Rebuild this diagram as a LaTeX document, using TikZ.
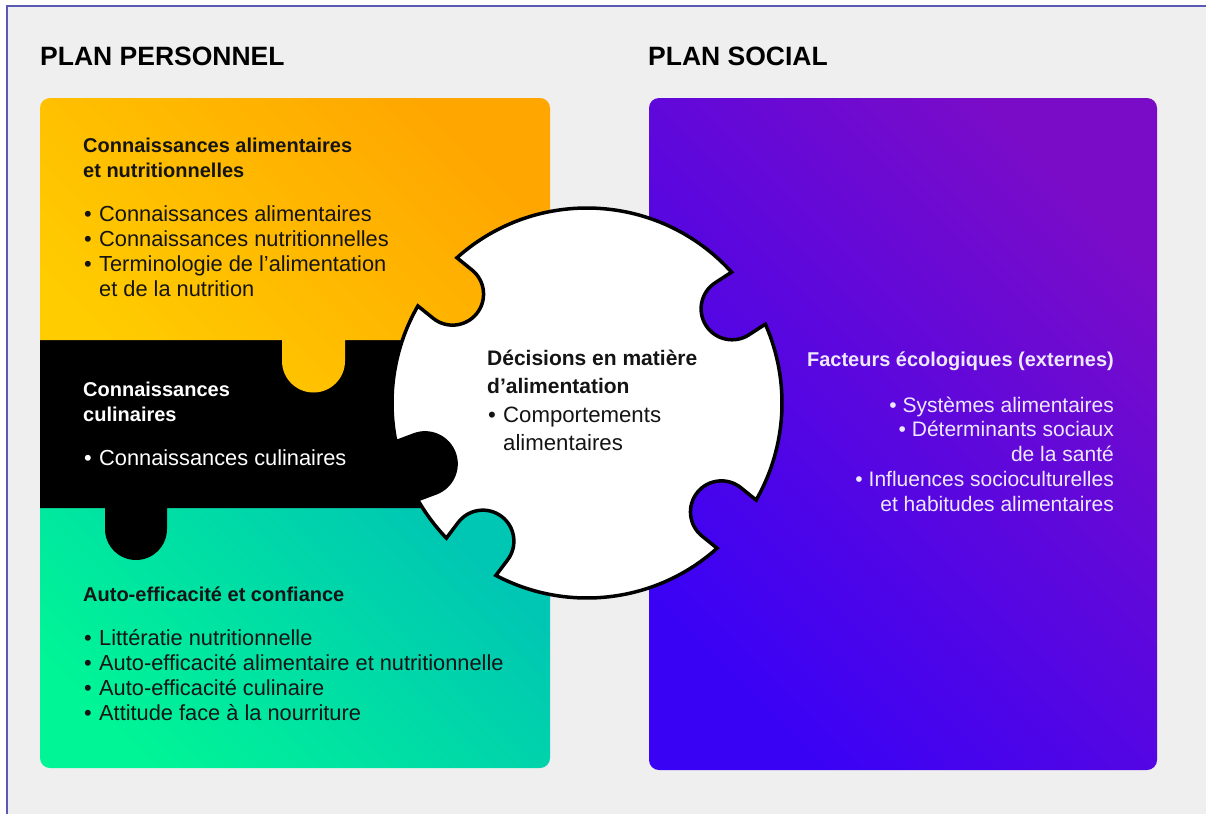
\documentclass[tikz,border=0pt]{standalone}
\usepackage{fontspec}
\setmainfont{Liberation Sans}
\usepackage{tikz}

\definecolor{bggray}{RGB}{239,239,239}
\definecolor{framecol}{RGB}{90,90,180}
\definecolor{yelA}{RGB}{255,204,0}
\definecolor{yelB}{RGB}{255,166,0}
\definecolor{grnA}{RGB}{0,245,150}
\definecolor{grnB}{RGB}{0,198,180}
\definecolor{purA}{RGB}{58,2,245}
\definecolor{purB}{RGB}{122,12,200}
\definecolor{ink}{RGB}{20,20,20}
\definecolor{lav}{RGB}{238,232,255}

\newcommand{\bul}{\makebox[15pt][l]{\textbullet}}

\begin{document}
\begin{tikzpicture}[x=1pt, y=-1pt,
  head/.style={anchor=base west, inner sep=0pt, font=\bfseries\fontsize{26.5}{30}\selectfont},
  ttl/.style={anchor=base west, inner sep=0pt, align=left, font=\bfseries\fontsize{20}{25}\selectfont},
  lst/.style={anchor=base west, inner sep=0pt, align=left, font=\fontsize{21.8}{25}\selectfont}]
\useasboundingbox (0,0) rectangle (1206,814);

% background and frame
\fill[white] (0,0) rectangle (1206,814);
\fill[bggray] (7,6) rectangle (1206,814);
\draw[framecol, line width=1.5pt] (7,814) -- (7,6) -- (1206,6);

\node[head] (perso) at (40,65) {PLAN PERSONNEL};
\node[head] (social) at (648,65) {PLAN SOCIAL};

% left panel, bottom to top
\shade[bottom color=grnA, top color=grnB, shading angle=-45] (40,508) -- (550,508) -- (550,758) arc[start angle=0, end angle=90, radius=10] -- (50,768) arc[start angle=90, end angle=180, radius=10] -- cycle;
\fill[black] (40,340) -- (550,340) -- (550,508) -- (167,508) -- (167,529) arc[start angle=0, end angle=180, radius=31] -- (105,508) -- (40,508) -- cycle;
\shade[bottom color=yelA, top color=yelB, shading angle=-45] (40,340) -- (40,108) arc[start angle=180, end angle=270, radius=10] -- (540,98) arc[start angle=270, end angle=360, radius=10] -- (550,340) -- (345,340) -- (345,361) arc[start angle=0, end angle=180, radius=31.5] -- (282,340) -- cycle;

% right panel
\shade[bottom color=purA, top color=purB, shading angle=-45, rounded corners=10pt] (649,98) rectangle (1157,770);

% puzzle piece
\begin{scope}[shift={(587,403)}]
\draw[fill=white, line width=3.5pt] (48.15:195) arc[start angle=48.15, end angle=117.85, radius=195]
  -- (116.84:175.76) arc[start angle=37, end angle=-143, radius=31] -- (136.15:195)
  arc[start angle=136.15, end angle=150.25, radius=195]
  -- (149.24:175.76) arc[start angle=69.4, end angle=-110.6, radius=31] -- (168.55:195)
  arc[start angle=168.55, end angle=209.85, radius=195]
  -- (208.84:175.76) arc[start angle=129, end angle=-51, radius=31] -- (228.15:195)
  arc[start angle=228.15, end angle=317.85, radius=195]
  -- (316.84:175.76) arc[start angle=237, end angle=57, radius=31] -- (336.15:195)
  arc[start angle=336.15, end angle=389.85, radius=195]
  -- (28.84:175.76) arc[start angle=-51, end angle=-231, radius=31] -- cycle;
\end{scope}

% texts (base = last line)
\node[ttl, ink] (connal) at (83,177) {Connaissances alimentaires\\et nutritionnelles};
\node[lst, ink] (connallist) at (84,296) {\bul Connaissances alimentaires\\\bul Connaissances nutritionnelles\\\bul Terminologie de l’alimentation\\\hspace*{15pt}et de la nutrition};

\node[ttl, white] (culin) at (83,421) {Connaissances\\culinaires};
\node[lst, white] (culinlist) at (84,465) {\bul Connaissances culinaires};

\node[ttl, ink] (autoeff) at (83,601) {Auto-efficacité et confiance};
\node[lst, ink] (autoefflist) at (84,720) {\bul Littératie nutritionnelle\\\bul Auto-efficacité alimentaire et nutritionnelle\\\bul Auto-efficacité culinaire\\\bul Attitude face à la nourriture};

\node[ttl, ink, font=\bfseries\fontsize{21}{27.5}\selectfont] (decis) at (487,393) {Décisions en matière\\d’alimentation};
\node[lst, ink, font=\fontsize{22.2}{28}\selectfont] (decislist) at (488,450) {\bul Comportements\\\hspace*{15pt}alimentaires};

\node[ttl, lav, anchor=base east, align=right] (facteurs) at (1114,366) {Facteurs écologiques (externes)};
\node[lst, lav, anchor=base east, align=right, font=\fontsize{21}{24.75}\selectfont] (facteurslist) at (1114,511) {• Systèmes alimentaires\\• Déterminants sociaux\\de la santé\\• Influences socioculturelles\\et habitudes alimentaires};

\end{tikzpicture}
\end{document}
